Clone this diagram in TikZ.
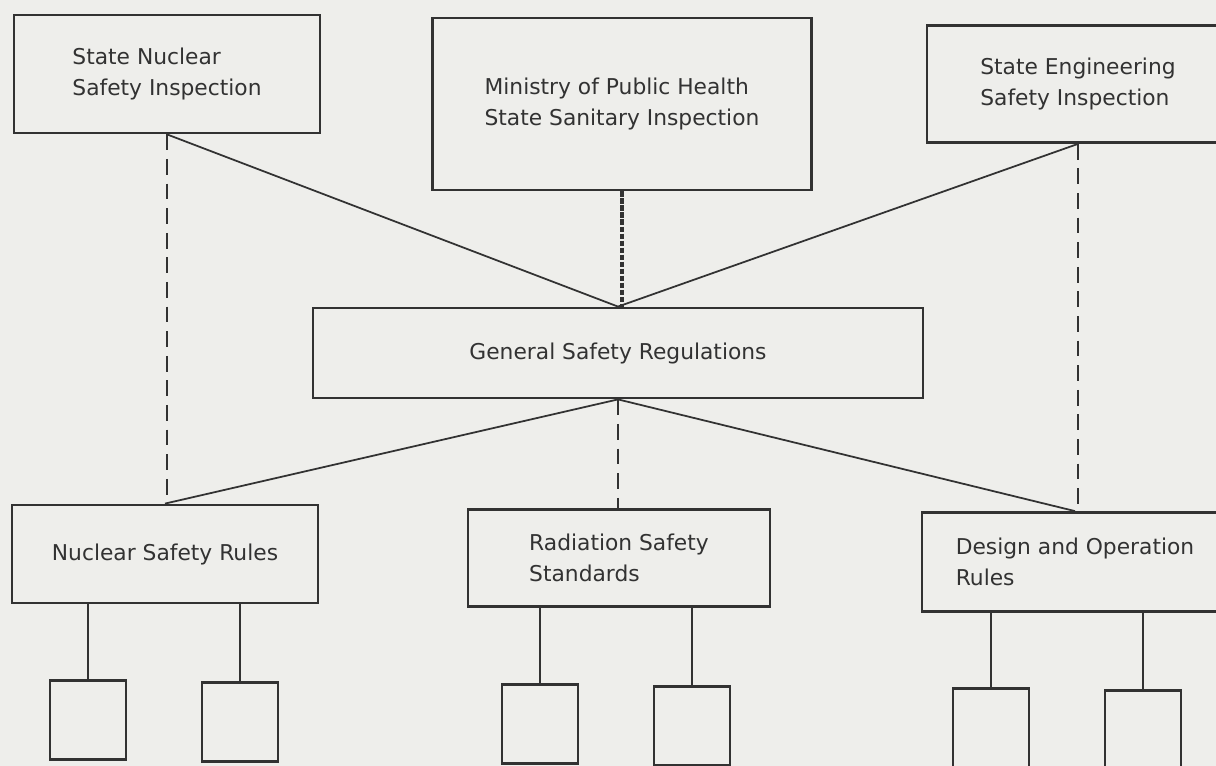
\documentclass[tikz,border=0pt]{standalone}
\usepackage{fontspec}
\setmainfont{DejaVu Sans}
\usepackage{xcolor}
\usetikzlibrary{positioning}

\definecolor{paper}{RGB}{238,238,235}
\definecolor{ink}{RGB}{50,50,50}

\begin{document}
\begin{tikzpicture}[
                x=0.02cm, y=-0.02cm,
                box/.style={draw=ink, line width=1.6pt, fill=paper, inner sep=0pt, align=left, text=ink, font=\fontsize{12.4}{18}\selectfont},
                leaf/.style={draw=ink, line width=1.6pt, fill=paper, inner sep=0pt, minimum width=1.52cm, minimum height=1.58cm},
                link/.style={draw=ink, line width=1pt},
                dashlink/.style={link, dash pattern=on 9pt off 5pt}
            ]
                \fill[paper] (0,0) rectangle (1216,766);
                \useasboundingbox (0,0) rectangle (1216,766);
                \clip (0,0) rectangle (1216,766);

                % Top row: inspections
                \node[box, minimum width=6.12cm, minimum height=2.36cm] (nuclearinsp) at (167,74) {State Nuclear\\Safety Inspection};
                \node[box, minimum width=7.58cm, minimum height=3.44cm] (healthinsp) at (622,104) {Ministry of Public Health\\State Sanitary Inspection};
                \node[box, minimum width=6.04cm, minimum height=2.34cm] (enginsp) at (1078,84) {State Engineering\\Safety Inspection};

                % Middle: general regulations
                \node[box, minimum width=12.2cm, minimum height=1.8cm] (general) at (618,353) {General Safety Regulations};

                % Bottom row: rules
                \node[box, minimum width=6.12cm, minimum height=1.96cm] (nuclearrules) at (165,554) {Nuclear Safety Rules};
                \node[box, minimum width=6.04cm, minimum height=1.94cm] (radstandards) at (619,558) {Radiation Safety\\Standards};
                \node[box, minimum width=6.12cm, minimum height=1.98cm] (designrules) at (1075,562) {Design and Operation\\Rules};

                % Sub-documents
                \node[leaf] (nuclearA) at (88,720) {};
                \node[leaf] (nuclearB) at (240,722) {};
                \node[leaf] (radA) at (540,724) {};
                \node[leaf] (radB) at (692,726) {};
                \node[leaf] (designA) at (991,728) {};
                \node[leaf] (designB) at (1143,730) {};

                % Links to general regulations
                \draw[link] (nuclearinsp.south) -- (general.north);
                \draw[link] (enginsp.south) -- (general.north);
                \draw[ink, line width=2pt, dash pattern=on 3pt off 1pt] (healthinsp.south) -- (healthinsp.south |- general.north);
                \draw[link] (general.south) -- (nuclearrules.north);
                \draw[link] (general.south) -- (designrules.north);
                \draw[dashlink] (general.south) -- (general.south |- radstandards.north);

                % Supervision
                \draw[dashlink] (nuclearinsp.south) -- (nuclearinsp.south |- nuclearrules.north);
                \draw[dashlink] (enginsp.south) -- (enginsp.south |- designrules.north);

                % Sub-documents
                \draw[link] (nuclearA.north) -- (nuclearA.north |- nuclearrules.south);
                \draw[link] (nuclearB.north) -- (nuclearB.north |- nuclearrules.south);
                \draw[link] (radA.north) -- (radA.north |- radstandards.south);
                \draw[link] (radB.north) -- (radB.north |- radstandards.south);
                \draw[link] (designA.north) -- (designA.north |- designrules.south);
                \draw[link] (designB.north) -- (designB.north |- designrules.south);
\end{tikzpicture}
\end{document}
